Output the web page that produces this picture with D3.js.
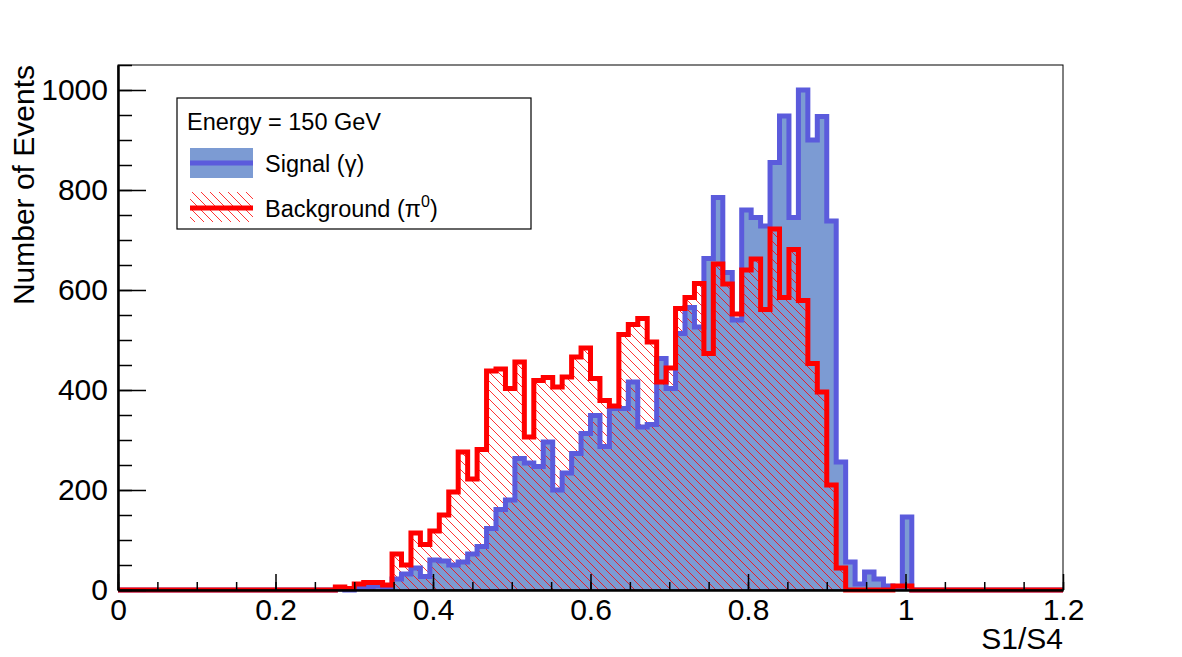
<!DOCTYPE html>
<html>
<head>
<meta charset="utf-8">
<script src="https://cdn.jsdelivr.net/npm/d3@7"></script>
<style>
  body { margin: 0; background: #fff; }
  svg text { font-family: "Liberation Sans", Arial, Helvetica, sans-serif; fill: #000; }
</style>
</head>
<body>
<div id="chart"></div>
<script>
// histogram binning: 100 bins from 0 to 1.2
const binLow = 0
const binHigh = 1.2
const nBins = 100

// bin contents
const signal = [
  0, 0, 0, 0, 0, 0, 0, 0, 0, 0,
  0, 0, 0, 0, 0, 0, 0, 0, 0, 0,
  0, 0, 0, 2, 0, 3, 6, 8, 3, 22,
  32, 44, 27, 60, 58, 50, 56, 72, 87, 123,
  161, 180, 263, 254, 247, 296, 200, 234, 273, 313,
  349, 287, 363, 363, 416, 326, 331, 463, 403, 513,
  565, 526, 663, 785, 635, 540, 760, 745, 728, 855,
  948, 745, 1000, 900, 947, 738, 256, 56, 12, 36,
  22, 8, 3, 146, 0, 0, 0, 0, 0, 0,
  0, 0, 0, 0, 0, 0, 0, 0, 0, 0
]

const background = [
  0, 0, 0, 0, 0, 0, 0, 0, 0, 0,
  0, 0, 0, 0, 0, 0, 0, 0, 0, 0,
  0, 0, 0, 6, 3, 12, 15, 15, 10, 72,
  50, 114, 91, 118, 150, 196, 276, 222, 281, 438,
  442, 403, 456, 306, 419, 425, 406, 426, 466, 484,
  423, 379, 368, 511, 531, 543, 496, 416, 444, 563,
  585, 613, 473, 652, 612, 552, 640, 662, 561, 722,
  585, 681, 579, 453, 396, 210, 44, 0, 0, 0,
  0, 0, 8, 8, 0, 0, 0, 0, 0, 0,
  0, 0, 0, 0, 0, 0, 0, 0, 0, 0
]

const xTicks = [0, 0.2, 0.4, 0.6, 0.8, 1, 1.2]
const yTicks = [0, 200, 400, 600, 800, 1000]
const xTitle = 'S1/S4'
const yTitle = 'Number of Events'
const legendTitle = 'Energy = 150 GeV'

const width = 1182
const height = 657
const margin = { top: 65, left: 118, right: 119, bottom: 67 }
const plotW = width - margin.left - margin.right
const plotH = height - margin.top - margin.bottom

const blueLine = '#5b5bdc'
const blueFill = '#7c9bd3'
const red = '#ff0000'
const labelSize = '30px'
const legendSize = '23.5px'

const svg = d3.select('#chart')
  .append('svg')
  .attr('width', width)
  .attr('height', height)

// hatch pattern ( \\\ ) like ROOT fill style 3005
const defs = svg.append('defs')
defs.append('pattern')
  .attr('id', 'hatch')
  .attr('patternUnits', 'userSpaceOnUse')
  .attr('width', 9)
  .attr('height', 9)
  .append('path')
  .attr('d', 'M-1,-1 L10,10 M-1,8 L1,10 M8,-1 L10,1')
  .attr('stroke', red)
  .attr('stroke-width', 0.8)

defs.append('clipPath').attr('id', 'frame')
  .append('rect')
  .attr('x', margin.left - 3).attr('y', margin.top)
  .attr('width', plotW + 6).attr('height', plotH + 4)

//scales
const x = d3.scaleLinear().domain([0, 1.2]).range([margin.left, margin.left + plotW])
const y = d3.scaleLinear().domain([0, 1050]).range([margin.top + plotH, margin.top])

const edges = d3.range(nBins + 1).map(i => binLow + i * (binHigh - binLow) / nBins)
const toSteps = vals => vals.map((v, i) => [edges[i], v]).concat([[binHigh, vals[vals.length - 1]]])

const area = d3.area()
  .curve(d3.curveStepAfter)
  .x(d => x(d[0]))
  .y0(y(0))
  .y1(d => y(d[1]))

const line = d3.line()
  .curve(d3.curveStepAfter)
  .x(d => x(d[0]))
  .y(d => y(d[1]))

const hist = svg.append('g').attr('clip-path', 'url(#frame)')

hist.append('path')
  .datum(toSteps(signal))
  .attr('d', area)
  .attr('fill', blueFill)

hist.append('path')
  .datum(toSteps(background))
  .attr('d', area)
  .attr('fill', 'url(#hatch)')

// frame
svg.append('rect')
  .attr('x', margin.left)
  .attr('y', margin.top)
  .attr('width', plotW)
  .attr('height', plotH)
  .attr('fill', 'none')
  .attr('stroke', '#000')
  .attr('stroke-width', 1)

// axes
const xMinor = d3.range(0, 1.2001, 0.05)
const yMinor = d3.range(0, 1051, 50)

const xAxisG = svg.append('g').attr('transform', `translate(0,${margin.top + plotH})`)
xAxisG.append('g')
  .call(d3.axisBottom(x).tickValues(xMinor).tickSizeInner(-8).tickSizeOuter(0).tickFormat(''))
xAxisG.append('g')
  .call(d3.axisBottom(x).tickValues(xTicks).tickSizeInner(-16).tickSizeOuter(0)
    .tickPadding(9).tickFormat(d3.format('~g')))

const yAxisG = svg.append('g').attr('transform', `translate(${margin.left},0)`)
yAxisG.append('g')
  .call(d3.axisLeft(y).tickValues(yMinor).tickSizeInner(-14).tickSizeOuter(0).tickFormat(''))
yAxisG.append('g')
  .call(d3.axisLeft(y).tickValues(yTicks).tickSizeInner(-28).tickSizeOuter(0)
    .tickPadding(10).tickFormat(d3.format('d')))

svg.selectAll('.domain').attr('stroke', '#000').attr('stroke-width', 2)
svg.selectAll('.tick line').attr('stroke', '#000').attr('stroke-width', 1.5)
svg.selectAll('.tick text').style('font-size', labelSize)

// outlines on top
hist.append('path')
  .datum(toSteps(signal))
  .attr('d', line)
  .attr('fill', 'none')
  .attr('stroke', blueLine)
  .attr('stroke-width', 5)

hist.append('path')
  .datum(toSteps(background))
  .attr('d', line)
  .attr('fill', 'none')
  .attr('stroke', red)
  .attr('stroke-width', 5)

// axis titles
svg.append('text')
  .attr('x', margin.left + plotW)
  .attr('y', 649)
  .attr('text-anchor', 'end')
  .style('font-size', labelSize)
  .text(xTitle)

svg.append('text')
  .attr('transform', `translate(34,${margin.top}) rotate(-90)`)
  .attr('text-anchor', 'end')
  .style('font-size', labelSize)
  .text(yTitle)

// legend
const legend = svg.append('g')
legend.append('rect')
  .attr('x', 177).attr('y', 98)
  .attr('width', 354).attr('height', 131)
  .attr('fill', '#fff')
  .attr('stroke', '#000')
  .attr('stroke-width', 1.2)

legend.append('text')
  .attr('x', 187).attr('y', 130)
  .style('font-size', legendSize)
  .text(legendTitle)

legend.append('rect')
  .attr('x', 190).attr('y', 148).attr('width', 63).attr('height', 30)
  .attr('fill', blueFill)
legend.append('line')
  .attr('x1', 190).attr('x2', 253).attr('y1', 163).attr('y2', 163)
  .attr('stroke', blueLine).attr('stroke-width', 5)
legend.append('text')
  .attr('x', 265).attr('y', 172)
  .style('font-size', legendSize)
  .text('Signal (γ)')

legend.append('rect')
  .attr('x', 190).attr('y', 192).attr('width', 63).attr('height', 30)
  .attr('fill', 'url(#hatch)')
legend.append('line')
  .attr('x1', 190).attr('x2', 253).attr('y1', 208).attr('y2', 208)
  .attr('stroke', red).attr('stroke-width', 5)
const bgText = legend.append('text')
  .attr('x', 265).attr('y', 217)
  .style('font-size', legendSize)
bgText.append('tspan').text('Background (π')
bgText.append('tspan').attr('dy', -10).style('font-size', '16px').text('0')
bgText.append('tspan').attr('dy', 10).text(')')
</script>
</body>
</html>
